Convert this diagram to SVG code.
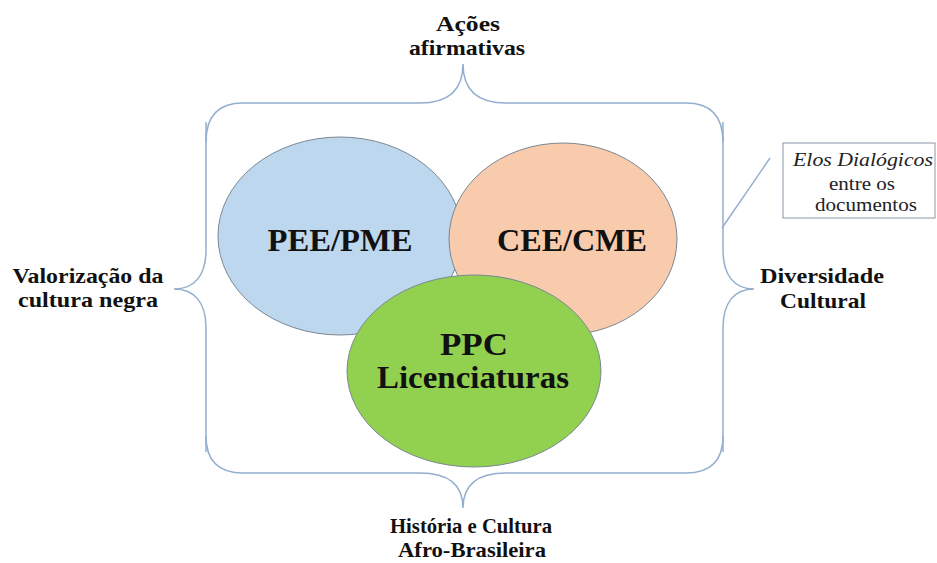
<svg xmlns="http://www.w3.org/2000/svg" width="937" height="563" viewBox="0 0 937 563">
<style>
.brace{fill:none;stroke:#92AFCF;stroke-width:1.5}
.ell{stroke:#7B8794;stroke-width:1}
.lbl{font-family:"Liberation Serif","Times New Roman",serif;font-weight:bold;font-size:22px;fill:#111;text-anchor:middle}
.big{font-family:"Liberation Serif","Times New Roman",serif;font-weight:bold;font-size:31px;fill:#111;text-anchor:middle}
.note{font-family:"Liberation Serif","Times New Roman",serif;font-size:19px;fill:#222;text-anchor:middle}
</style>
<rect width="937" height="563" fill="#fff"/>
<g id="connectors">
<path class="brace" d="M206 142 Q206 103 243 103 L420 103 Q463 103 463 64 Q463 103 506 103 L686 103 Q723 103 723 142"/>
<path class="brace" d="M206 122 L206 250 C206 275 195 289 174 289 C195 289 206 303 206 328 L206 452"/>
<path class="brace" d="M723 122 L723 250 C723 275 734 289 754 289 C734 289 723 303 723 328 L723 452"/>
<path class="brace" d="M206 436 Q206 473 243 473 L420 473 Q463 473 463 508 Q463 473 506 473 L686 473 Q723 473 723 436"/>
<line class="brace" x1="722" y1="228" x2="770" y2="158" stroke-width="1"/>
</g>
<g id="pee">
<ellipse class="ell" cx="340" cy="236" rx="122" ry="99" fill="#BDD7EE"/>
<text class="big" x="340" y="251" textLength="145" lengthAdjust="spacingAndGlyphs">PEE/PME</text>
</g>
<g id="cee">
<ellipse class="ell" cx="563" cy="239" rx="114" ry="96" fill="#F8CBAD"/>
<text class="big" x="572" y="251" textLength="150" lengthAdjust="spacingAndGlyphs">CEE/CME</text>
</g>
<g id="ppc">
<ellipse class="ell" cx="474" cy="371" rx="127" ry="96" fill="#92D050"/>
<text class="big" x="474" y="355" textLength="68" lengthAdjust="spacingAndGlyphs">PPC</text>
<text class="big" x="473" y="388" textLength="192" lengthAdjust="spacingAndGlyphs">Licenciaturas</text>
</g>
<g id="acoes">
<text class="lbl" x="468" y="31" textLength="64" lengthAdjust="spacingAndGlyphs">Ações</text>
<text class="lbl" x="467" y="55" textLength="116" lengthAdjust="spacingAndGlyphs">afirmativas</text>
</g>
<g id="valorizacao">
<text class="lbl" x="88" y="283" textLength="151" lengthAdjust="spacingAndGlyphs">Valorização da</text>
<text class="lbl" x="88" y="307" textLength="140" lengthAdjust="spacingAndGlyphs">cultura negra</text>
</g>
<g id="diversidade">
<text class="lbl" x="822" y="283" textLength="124" lengthAdjust="spacingAndGlyphs">Diversidade</text>
<text class="lbl" x="823" y="308" textLength="86" lengthAdjust="spacingAndGlyphs">Cultural</text>
</g>
<g id="historia">
<text class="lbl" x="471" y="533" textLength="162" lengthAdjust="spacingAndGlyphs">História e Cultura</text>
<text class="lbl" x="472" y="557" textLength="148" lengthAdjust="spacingAndGlyphs">Afro-Brasileira</text>
</g>
<g id="elos">
<rect x="783" y="143" width="152" height="75" fill="#fff" stroke="#8A96A3" stroke-width="1"/>
<text class="note" x="863" y="166" font-style="italic" textLength="140" lengthAdjust="spacingAndGlyphs">Elos Dialógicos</text>
<text class="note" x="862" y="190" textLength="66" lengthAdjust="spacingAndGlyphs">entre os</text>
<text class="note" x="866" y="211" textLength="102" lengthAdjust="spacingAndGlyphs">documentos</text>
</g>
</svg>
